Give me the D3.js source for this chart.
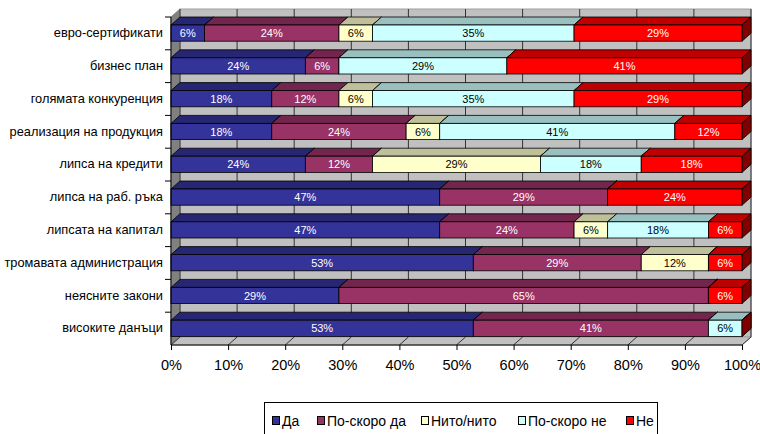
<!DOCTYPE html>
<html>
<head>
<meta charset="utf-8">
<title>Chart</title>
<script src="https://d3js.org/d3.v7.min.js"></script>
<style>
  body { margin: 0; background: #fff; }
  text { font-family: "Liberation Sans", Arial, sans-serif; }
</style>
</head>
<body>
<svg width="760" height="434"></svg>
<script>
var categories = ["евро-сертификати", "бизнес план", "голямата конкуренция", "реализация на продукция",
  "липса на кредити", "липса на раб. ръка", "липсата на капитал", "тромавата администрация",
  "неясните закони", "високите данъци"];
var seriesNames = ["Да", "По-скоро да", "Нито/нито", "По-скоро не", "Не"];
// answers per category (17 respondents)
var da        = [1, 4, 3, 3, 4, 8, 8, 9, 5, 9];
var poSkoroDa = [4, 1, 2, 4, 2, 5, 4, 5, 11, 7];
var nito      = [1, 0, 1, 1, 5, 0, 1, 2, 0, 0];
var poSkoroNe = [6, 5, 6, 7, 3, 0, 3, 0, 0, 1];
var ne        = [5, 7, 5, 2, 3, 4, 1, 1, 1, 0];
var tickValues = [0, 0.1, 0.2, 0.3, 0.4, 0.5, 0.6, 0.7, 0.8, 0.9, 1];

var front = ["#333399", "#993366", "#ffffcc", "#ccffff", "#ff0000"],
    top_ = ["#262673", "#73264d", "#bfbf99", "#99bfbf", "#bf0000"],
    side = ["#1a1a4d", "#4d1a33", "#808066", "#668080", "#800000"],
    labelColor = ["#fff", "#fff", "#000", "#000", "#fff"];

var svg = d3.select("svg");
var dx = 9, dy = 8;

var x = d3.scaleLinear().domain([0, 1]).range([171, 742]);
var y = d3.scaleBand().domain(categories).range([17, 345]);

var rows = categories.map(function(c, i) {
  return {cat: c, "Да": da[i], "По-скоро да": poSkoroDa[i], "Нито/нито": nito[i], "По-скоро не": poSkoroNe[i], "Не": ne[i]};
});
var stacked = d3.stack().keys(seriesNames).offset(d3.stackOffsetExpand)(rows);

var x0 = x(0), x1 = x(1), yTop = y.range()[0], yBot = y.range()[1];

// walls
svg.append("polygon")
  .attr("points", [[x0, yTop], [x0 + dx, yTop - dy], [x0 + dx, yBot - dy], [x0, yBot]].join(" "))
  .attr("fill", "#808080").attr("stroke", "#808080");
svg.append("rect")
  .attr("x", x0 + dx).attr("y", yTop - dy)
  .attr("width", x1 - x0).attr("height", yBot - yTop)
  .attr("fill", "#c0c0c0").attr("stroke", "#a0a0a0");
svg.append("polygon")
  .attr("points", [[x0, yBot], [x0 + dx, yBot - dy], [x1 + dx, yBot - dy], [x1, yBot]].join(" "))
  .attr("fill", "#c0c0c0").attr("stroke", "#a0a0a0");

// gridlines on back wall and floor
svg.selectAll(".grid").data(tickValues).enter().append("path")
  .attr("class", "grid")
  .attr("d", function(t) {
    return "M" + (x(t) + dx) + "," + (yTop - dy) + "V" + (yBot - dy) + "L" + x(t) + "," + yBot;
  })
  .attr("fill", "none").attr("stroke", "#333").attr("stroke-width", 1);

// bars
var fTop = 8, fBot = 24.2;
categories.forEach(function(c, i) {
  var g = svg.append("g");
  var by = y(c);
  stacked.forEach(function(s, k) {
    var a = x(s[i][0]), b = x(s[i][1]);
    var t = by + fTop, u = by + fBot;
    g.append("polygon")
      .attr("points", [[a, t], [a + dx, t - dy], [b + dx, t - dy], [b, t]].join(" "))
      .attr("fill", top_[k]).attr("stroke", "#000").attr("stroke-width", 0.8);
    g.append("polygon")
      .attr("points", [[b, t], [b + dx, t - dy], [b + dx, u - dy], [b, u]].join(" "))
      .attr("fill", side[k]).attr("stroke", "#000").attr("stroke-width", 0.8);
    if (b > a) {
      g.append("rect")
        .attr("x", a).attr("y", t).attr("width", b - a).attr("height", u - t)
        .attr("fill", front[k]).attr("stroke", "#000").attr("stroke-width", 0.8);
    }
  });
  stacked.forEach(function(s, k) {
    var v = s[i][1] - s[i][0];
    if (v <= 0) return;
    g.append("text")
      .attr("x", (x(s[i][0]) + x(s[i][1])) / 2)
      .attr("y", by + (fTop + fBot) / 2 + 4)
      .attr("text-anchor", "middle")
      .attr("font-size", 11)
      .attr("fill", labelColor[k])
      .text(Math.round(v * 100) + "%");
  });
});

// axes
var xAxis = svg.append("g")
  .attr("transform", "translate(0," + yBot + ")")
  .call(d3.axisBottom(x).tickValues(tickValues).tickFormat(d3.format(".0%")).tickSize(5).tickPadding(10));
xAxis.select(".domain").attr("d", "M" + x0 + ",0H" + x1).attr("stroke", "#000");
xAxis.selectAll("text").attr("font-size", 14.5).attr("font-family", "Liberation Sans, Arial, sans-serif").attr("fill", "#000");

var yAxis = svg.append("g")
  .attr("transform", "translate(" + x0 + ",0)")
  .call(d3.axisLeft(y).tickSize(0).tickPadding(8));
yAxis.select(".domain").attr("d", "M0," + yTop + "V" + yBot).attr("stroke", "#000");
yAxis.selectAll("text").attr("font-size", 12.8).attr("font-family", "Liberation Sans, Arial, sans-serif").attr("fill", "#000")
  .attr("dy", "0.3em");
yAxis.selectAll(".bound").data(categories).enter().append("line")
  .attr("class", "bound")
  .attr("x1", -6).attr("x2", 0)
  .attr("y1", function(c) { return y(c); }).attr("y2", function(c) { return y(c); })
  .attr("stroke", "#000");

// legend
var legend = svg.append("g");
legend.append("rect")
  .attr("x", 264.5).attr("y", 402.5).attr("width", 393).attr("height", 40)
  .attr("fill", "#fff").attr("stroke", "#000");
var legendX = [272, 317, 421, 518, 626];
seriesNames.forEach(function(n, k) {
  legend.append("rect")
    .attr("x", legendX[k] + 0.5).attr("y", 416.5).attr("width", 7).attr("height", 8)
    .attr("fill", front[k]).attr("stroke", "#000");
  legend.append("text")
    .attr("x", legendX[k] + 10).attr("y", 426)
    .attr("font-size", 14).attr("fill", "#000")
    .text(n);
});
</script>
</body>
</html>
